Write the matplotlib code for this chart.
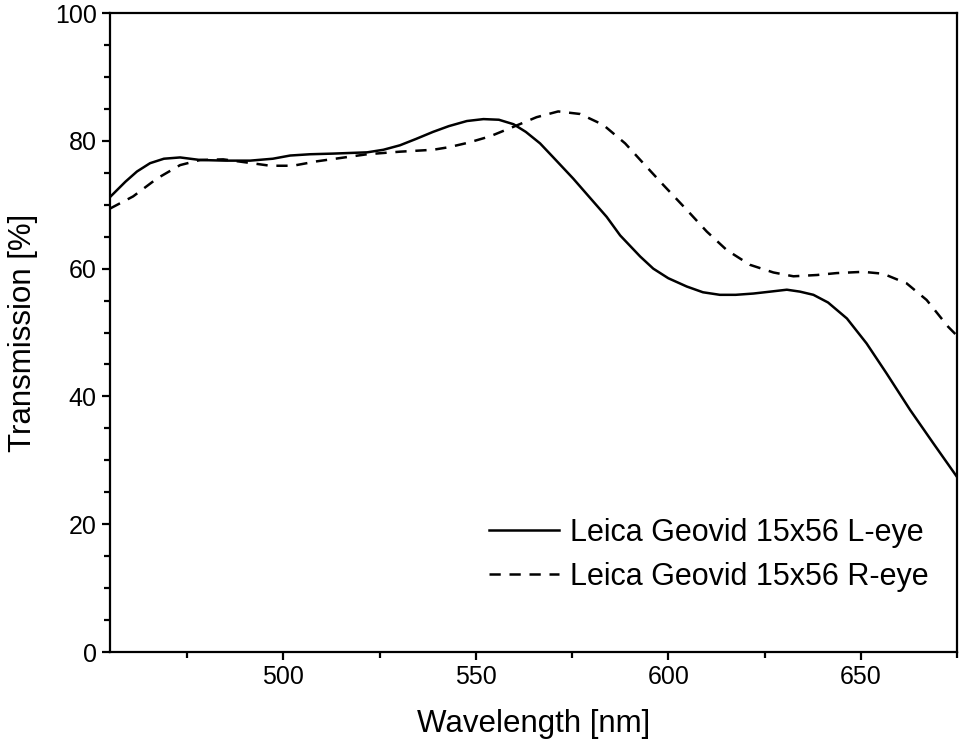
import matplotlib.pyplot as plt
from matplotlib.ticker import MultipleLocator

plt.rcParams['font.family'] = ['Liberation Sans', 'DejaVu Sans']

# Leica Geovid 15x56, left eye (solid)
wl_left = [455, 459, 462, 465.4, 469, 473.2, 478.4, 485, 491.4, 497.3, 501.8, 507,
           512.9, 521.8, 526, 530.3, 534.5, 538.9, 543, 547.7, 552, 556, 559.8,
           563, 566.7, 570, 575.3, 579.5, 584.0, 587.5, 592.7, 596.1, 600, 604.8,
           609, 613.4, 617.5, 622.1, 626.5, 630.8, 634.2, 637.7, 641.5, 646.4,
           651.5, 656.7, 662.8, 668.8, 675]
tr_left = [71.2, 73.6, 75.2, 76.5, 77.2, 77.4, 77.0, 76.9, 76.9, 77.2, 77.7, 77.9,
           78.0, 78.2, 78.6, 79.3, 80.3, 81.4, 82.3, 83.1, 83.4, 83.3, 82.6,
           81.4, 79.6, 77.5, 74.1, 71.2, 68.1, 65.2, 61.9, 60.0, 58.5, 57.2,
           56.3, 55.9, 55.9, 56.1, 56.4, 56.7, 56.4, 55.9, 54.7, 52.2,
           48.3, 43.6, 37.9, 32.7, 27.4]

# Leica Geovid 15x56, right eye (dashed)
wl_right = [455, 461, 467.2, 473.2, 478.4, 484.4, 490.6, 496.6, 502.5, 508.8, 514.7,
            521.8, 530.3, 538.9, 543, 548, 553.7, 559.8, 565.8, 571.4, 577.1,
            583.1, 588.8, 593.5, 598.7, 604.8, 610.0, 615.2, 621.2, 627.3, 632.5,
            638.6, 643.7, 650.6, 655.8, 661.9, 667.1, 672.7, 675]
tr_right = [69.4, 71.3, 74.1, 76.2, 77.0, 77.1, 76.6, 76.1, 76.1, 76.8, 77.3,
            77.9, 78.3, 78.6, 79.0, 79.7, 80.7, 82.2, 83.7, 84.6, 84.2,
            82.5, 79.6, 76.5, 73.1, 69.2, 65.8, 62.9, 60.6, 59.4, 58.8,
            59.0, 59.3, 59.5, 59.2, 57.7, 55.1, 50.9, 49.5]

fig = plt.figure(figsize=(9.6, 7.53), dpi=100)
ax = fig.add_axes([0.1146, 0.1341, 0.8823, 0.8486])

ax.plot(wl_left, tr_left, c='black', lw=1.8, label='Leica Geovid 15x56 L-eye')
ax.plot(wl_right, tr_right, c='black', lw=1.8, dashes=(4.5, 3.5),
        label='Leica Geovid 15x56 R-eye')

ax.set_xlim(455, 675)
ax.set_ylim(0, 100)
ax.xaxis.set_major_locator(MultipleLocator(50))
ax.xaxis.set_minor_locator(MultipleLocator(25))
ax.yaxis.set_major_locator(MultipleLocator(20))
ax.yaxis.set_minor_locator(MultipleLocator(5))

for s in ax.spines.values():
    s.set_linewidth(1.6)
ax.tick_params(axis='both', which='major', direction='out', length=6, width=1.6,
               labelsize=18, top=False, right=False)
ax.tick_params(axis='both', which='minor', direction='out', length=4, width=1.6,
               top=False, right=False)

ax.set_xlabel('Wavelength [nm]', fontsize=22.5, labelpad=14)
ax.set_ylabel('Transmission [%]', fontsize=22.5, labelpad=12)

ax.legend(loc='lower right', bbox_to_anchor=(0.988, 0.066), frameon=False,
          fontsize=22, handlelength=2.3, handletextpad=0.35, labelspacing=0.45,
          borderaxespad=0.2)

plt.savefig('out.png', dpi=100)
